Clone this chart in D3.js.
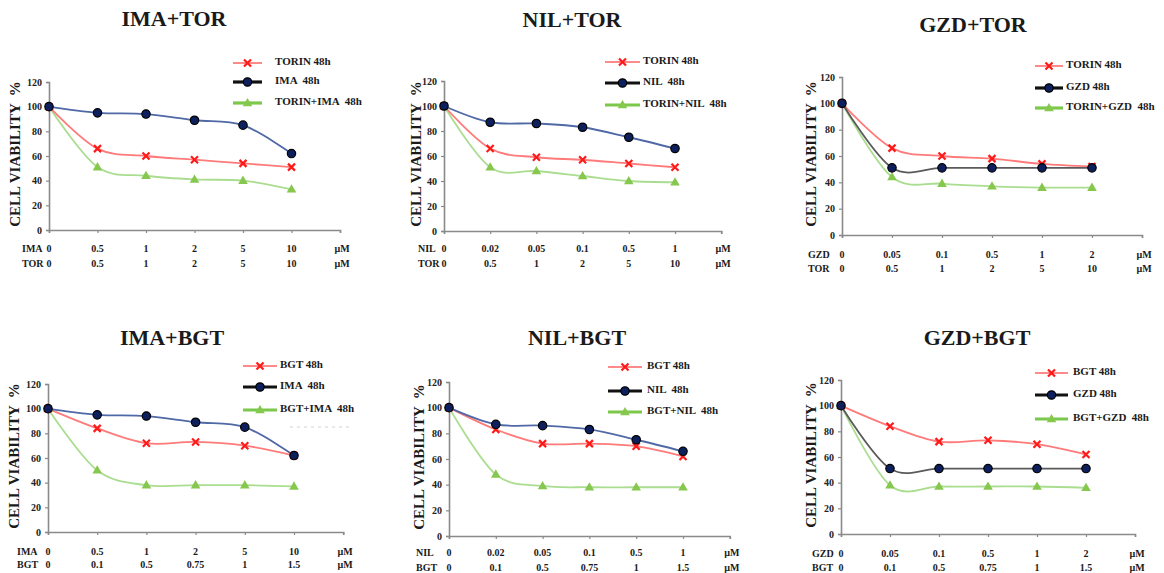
<!DOCTYPE html>
<html>
<head>
<meta charset="utf-8">
<script src="https://cdn.jsdelivr.net/npm/d3@7"></script>
<style>
  body { margin: 0; background: #fff; }
  svg { display: block; }
</style>
</head>
<body>
<div id="chart"></div>
<script>
// dose labels (x axis rows)
var imaDoses = ["0", "0.5", "1", "2", "5", "10"];
var nilDoses = ["0", "0.02", "0.05", "0.1", "0.5", "1"];
var gzdDoses = ["0", "0.05", "0.1", "0.5", "1", "2"];
var torDoses = ["0", "0.5", "1", "2", "5", "10"];
var bgtDoses = ["0", "0.1", "0.5", "0.75", "1", "1.5"];
var yTicks = [0, 20, 40, 60, 80, 100, 120];

// cell viability %
var imaTorTorin = [100, 66, 60, 57, 54, 51];
var imaTorIma   = [100, 95, 94, 89, 85, 62];
var imaTorCombo = [100, 51, 44, 41, 40, 33];

var nilTorTorin = [100, 66, 59, 57, 54, 51];
var nilTorNil   = [100, 87, 86, 83, 75, 66];
var nilTorCombo = [100, 51, 48, 44, 40, 39];

var gzdTorTorin = [100, 66, 60, 58, 54, 52];
var gzdTorGzd   = [100, 51, 51, 51, 51, 51];
var gzdTorCombo = [100, 44, 39, 37, 36, 36];

var imaBgtBgt   = [100, 84, 72, 73, 70, 62];
var imaBgtIma   = [100, 95, 94, 89, 85, 62];
var imaBgtCombo = [100, 50, 38, 38, 38, 37];

var nilBgtBgt   = [100, 83, 72, 72, 70, 62];
var nilBgtNil   = [100, 87, 86, 83, 75, 66];
var nilBgtCombo = [100, 48, 39, 38, 38, 38];

var gzdBgtBgt   = [100, 84, 72, 73, 70, 62];
var gzdBgtGzd   = [100, 51, 51, 51, 51, 51];
var gzdBgtCombo = [100, 38, 37, 37, 37, 36];

var serif = "'Liberation Serif', 'DejaVu Serif', serif";

var panels = [
  { title: "IMA+TOR", row1: "IMA", row2: "TOR", doses1: imaDoses, doses2: torDoses,
    names: ["TORIN 48h", "IMA  48h", "TORIN+IMA  48h"], series: [imaTorTorin, imaTorIma, imaTorCombo], mid: "blue",
    x0: 49, step: 48.5, yTop: 82, yBot: 230, rows: [248, 263], rowX: 22, titleX: 174, titleY: 18, yTitleX: 15,
    leg: { x1: 233, x2: 262, tx: 275, ys: [61, 80, 101] } },
  { title: "NIL+TOR", row1: "NIL", row2: "TOR", doses1: nilDoses, doses2: torDoses,
    names: ["TORIN 48h", "NIL  48h", "TORIN+NIL  48h"], series: [nilTorTorin, nilTorNil, nilTorCombo], mid: "blue",
    x0: 444, step: 46.2, yTop: 81, yBot: 231, rows: [248, 263], rowX: 418, titleX: 572, titleY: 19, yTitleX: 416,
    leg: { x1: 605, x2: 640, tx: 643, ys: [60, 81, 103] } },
  { title: "GZD+TOR", row1: "GZD", row2: "TOR", doses1: gzdDoses, doses2: torDoses,
    names: ["TORIN 48h", "GZD 48h", "TORIN+GZD  48h"], series: [gzdTorTorin, gzdTorGzd, gzdTorCombo], mid: "gray",
    x0: 842, step: 50, yTop: 77, yBot: 235, rows: [254, 268], rowX: 808, titleX: 973, titleY: 24, yTitleX: 811,
    leg: { x1: 1035, x2: 1063, tx: 1066, ys: [64, 86, 106] } },
  { title: "IMA+BGT", row1: "IMA", row2: "BGT", doses1: imaDoses, doses2: bgtDoses,
    names: ["BGT 48h", "IMA  48h", "BGT+IMA  48h"], series: [imaBgtBgt, imaBgtIma, imaBgtCombo], mid: "blue",
    x0: 48, step: 49.2, yTop: 384, yBot: 532, rows: [551, 564], rowX: 17, titleX: 172, titleY: 337, yTitleX: 14,
    leg: { x1: 243, x2: 277, tx: 280, ys: [364, 385, 408] }, smudge: true },
  { title: "NIL+BGT", row1: "NIL", row2: "BGT", doses1: nilDoses, doses2: bgtDoses,
    names: ["BGT 48h", "NIL  48h", "BGT+NIL  48h"], series: [nilBgtBgt, nilBgtNil, nilBgtCombo], mid: "blue",
    x0: 449, step: 46.8, yTop: 382, yBot: 536, rows: [552, 567], rowX: 416, titleX: 577, titleY: 337, yTitleX: 419,
    leg: { x1: 608, x2: 642, tx: 647, ys: [365, 389, 410] } },
  { title: "GZD+BGT", row1: "GZD", row2: "BGT", doses1: gzdDoses, doses2: bgtDoses,
    names: ["BGT 48h", "GZD 48h", "BGT+GZD  48h"], series: [gzdBgtBgt, gzdBgtGzd, gzdBgtCombo], mid: "gray",
    x0: 841, step: 49, yTop: 380, yBot: 534, rows: [553, 567], rowX: 812, titleX: 977, titleY: 337, yTitleX: 811,
    leg: { x1: 1035, x2: 1068, tx: 1073, ys: [371, 393, 417] } }
];

var svg = d3.select("#chart").append("svg")
            .attr("width", 1164)
            .attr("height", 573);

var curve = d3.curveCardinal.tension(0);

function label(g, x, y, size, str, anchor) {
  return g.append("text").attr("x", x).attr("y", y)
          .attr("text-anchor", anchor || "start").attr("dominant-baseline", "central")
          .style("font-family", serif).style("font-weight", "bold")
          .style("font-size", size + "px").style("fill", "#1a1a1a")
          .style("white-space", "pre")
          .text(str);
}

function crossPath(s) {
  return `M${-s},${-s}L${s},${s}M${-s},${s}L${s},${-s}`;
}

function drawMarker(g, kind, x, y) {
  if (kind === 0) {
    g.append("path").attr("d", crossPath(3.5))
     .attr("transform", `translate(${x},${y})`)
     .attr("stroke", "#ff1a1a").attr("stroke-width", 2.2).attr("fill", "none");
  } else if (kind === 1) {
    g.append("circle").attr("cx", x).attr("cy", y).attr("r", 4.2)
     .attr("fill", "#0d1f5c").attr("stroke", "#000").attr("stroke-width", 1.2);
  } else {
    g.append("path").attr("d", d3.symbol(d3.symbolTriangle, 40)())
     .attr("transform", `translate(${x},${y + 0.5})`)
     .attr("fill", "#86c84e");
  }
}

panels.forEach(p => {
  var g = svg.append("g");
  var idx = d3.range(7);
  var xScale = d3.scalePoint().domain(idx).range([p.x0, p.x0 + 6 * p.step]);
  var yScale = d3.scaleLinear().domain([0, 120]).range([p.yBot, p.yTop]);

  // title
  label(g, p.titleX, p.titleY, 22, p.title, "middle");

  // y axis
  var yAxis = g.append("g").attr("transform", `translate(${p.x0},0)`)
               .call(d3.axisLeft(yScale).tickValues(yTicks).tickSize(3).tickPadding(4));
  yAxis.select(".domain").attr("stroke", "#8a8a8a").attr("stroke-width", 1.6);
  yAxis.selectAll(".tick line").attr("stroke", "#8a8a8a").attr("stroke-width", 1.2);
  yAxis.selectAll(".tick text").attr("fill", "#222")
       .style("font-size", "10px").style("font-family", serif).style("font-weight", "bold");

  // x axis
  var xAxis = g.append("g").attr("transform", `translate(0,${p.yBot})`)
               .call(d3.axisBottom(xScale).tickSize(3).tickFormat(""));
  xAxis.select(".domain").attr("stroke", "#8a8a8a").attr("stroke-width", 1.6);
  xAxis.selectAll(".tick line").attr("stroke", "#8a8a8a").attr("stroke-width", 1.2);

  // y axis title
  label(g, 0, 0, 15, "CELL VIABILITY  %", "middle")
   .attr("transform", `translate(${p.yTitleX},${(p.yTop + p.yBot) / 2 - 2}) rotate(-90)`);

  // dose rows
  [[p.row1, p.doses1.concat(["\u00b5M"])], [p.row2, p.doses2.concat(["\u00b5M"])]].forEach((row, r) => {
    var ry = p.rows[r];
    label(g, p.rowX, ry, 10, row[0]);
    row[1].forEach((d, i) => label(g, xScale(i) + (i === 6 ? 2 : 0), ry, 10, d, "middle"));
  });

  // lines
  var lineColors = ["#ff7a7a", p.mid === "blue" ? "#4f68a6" : "#5a5a5a", "#aadd90"];
  var line = d3.line().x((d, i) => xScale(i)).y(d => yScale(d)).curve(curve);
  [2, 0, 1].forEach(k => {
    g.append("path").datum(p.series[k]).attr("d", line)
     .attr("fill", "none").attr("stroke", lineColors[k]).attr("stroke-width", 1.8);
  });
  [2, 0, 1].forEach(k => {
    p.series[k].forEach((v, i) => drawMarker(g, k, xScale(i), yScale(v)));
  });

  // legend
  var legColors = ["#ff8a8a", "#111", "#7cc84a"];
  var legWidths = [2, 3.2, 3.2];
  p.names.forEach((name, k) => {
    var ly = p.leg.ys[k];
    g.append("line").attr("x1", p.leg.x1).attr("x2", p.leg.x2)
     .attr("y1", ly + 2).attr("y2", ly + 2)
     .attr("stroke", legColors[k]).attr("stroke-width", legWidths[k]);
    drawMarker(g, k, (p.leg.x1 + p.leg.x2) / 2, ly + 2);
    label(g, p.leg.tx, ly, 11, name);
  });

  if (p.smudge) {
    g.append("line").attr("x1", 290).attr("x2", 352).attr("y1", 427).attr("y2", 427)
     .attr("stroke", "#cfd3d8").attr("stroke-width", 1.2).attr("stroke-dasharray", "3,4");
  }
});
</script>
</body>
</html>
